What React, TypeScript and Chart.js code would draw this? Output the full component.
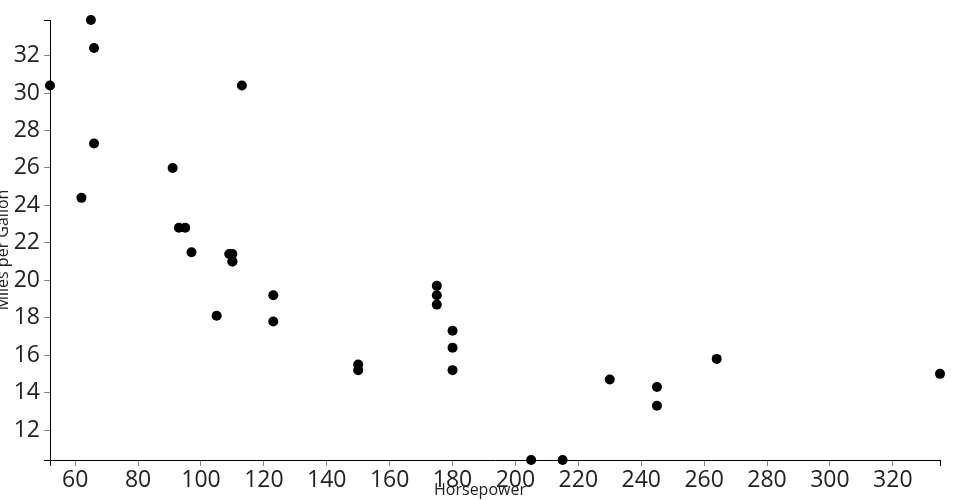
import React, { useEffect, useRef } from "react";
import { Chart, registerables } from "chart.js";

Chart.register(...registerables);

const horsepower = [110, 110, 93, 110, 175, 105, 245, 62, 95, 123, 123, 180, 180, 180, 205, 215, 230, 66, 52, 65, 97, 150, 150, 245, 175, 66, 91, 113, 264, 175, 335, 109];
const milesPerGallon = [21.0, 21.0, 22.8, 21.4, 18.7, 18.1, 14.3, 24.4, 22.8, 19.2, 17.8, 16.4, 17.3, 15.2, 10.4, 10.4, 14.7, 32.4, 30.4, 33.9, 21.5, 15.5, 15.2, 13.3, 19.2, 27.3, 26.0, 30.4, 15.8, 19.7, 15.0, 21.4];

const xTicks = [52, 60, 80, 100, 120, 140, 160, 180, 200, 220, 240, 260, 280, 300, 320, 335];
const yTicks = [10.4, 12, 14, 16, 18, 20, 22, 24, 26, 28, 30, 32, 33.9];

const xTitle = "Horsepower";
const yTitle = "Miles per Gallon";

const FONT = "'Open Sans', 'Noto Sans', sans-serif";

const titlesPlugin = {
  id: "axisTitles",
  afterDraw(chart: any) {
    const ctx = chart.ctx;
    ctx.save();
    ctx.fillStyle = "#222";
    ctx.font = `16px ${FONT}`;
    ctx.textAlign = "center";
    ctx.textBaseline = "alphabetic";
    ctx.fillText(xTitle, chart.width / 2, 495);
    ctx.translate(8, chart.height / 2);
    ctx.rotate(-Math.PI / 2);
    ctx.fillText(yTitle, 0, 0);
    ctx.restore();
  },
};

export default function App() {
  const ref = useRef<HTMLCanvasElement>(null);
  useEffect(() => {
    document.body.style.margin = "0";
    const points = horsepower.map((h, i) => ({ x: h, y: milesPerGallon[i] }));
    const isEnd = (ticksArr: number[], v: number) => v === ticksArr[0] || v === ticksArr[ticksArr.length - 1];
    const chart = new Chart(ref.current!, {
      type: "scatter",
      data: {
        datasets: [
          {
            data: points,
            backgroundColor: "#000",
            borderColor: "#000",
            pointRadius: 5,
            pointHoverRadius: 5,
            borderWidth: 0,
            clip: false,
          } as any,
        ],
      },
      options: {
        animation: false,
        responsive: false,
        events: [],
        layout: { padding: { top: 20, right: 20, left: 0, bottom: 0 } },
        plugins: { legend: { display: false }, tooltip: { enabled: false } },
        scales: {
          x: {
            type: "linear",
            min: 52,
            max: 335,
            afterBuildTicks: (axis: any) => {
              axis.ticks = xTicks.map((v) => ({ value: v }));
            },
            afterFit: (scale: any) => {
              scale.height = 40;
            },
            border: { display: true, color: "#000", width: 1 },
            grid: {
              drawOnChartArea: false,
              tickLength: 6,
              tickColor: (c: any) => (isEnd(xTicks, c.tick?.value) ? "#000" : "#888"),
            },
            ticks: {
              autoSkip: false,
              maxRotation: 0,
              padding: 1,
              color: "#222",
              font: { family: FONT, size: 23 },
              callback: (v: any) => (isEnd(xTicks, Number(v)) ? "" : String(v)),
            },
          },
          y: {
            type: "linear",
            min: 10.4,
            max: 33.9,
            afterBuildTicks: (axis: any) => {
              axis.ticks = yTicks.map((v) => ({ value: v }));
            },
            afterFit: (scale: any) => {
              scale.width = 50;
            },
            border: { display: true, color: "#000", width: 1 },
            grid: {
              drawOnChartArea: false,
              tickLength: 6,
              tickColor: (c: any) => (isEnd(yTicks, c.tick?.value) ? "#000" : "#888"),
            },
            ticks: {
              autoSkip: false,
              padding: 4,
              color: "#222",
              font: { family: FONT, size: 23 },
              callback: (v: any) => (isEnd(yTicks, Number(v)) ? "" : String(v)),
            },
          },
        },
      },
      plugins: [titlesPlugin],
    });
    return () => chart.destroy();
  }, []);
  return (
    <div style={{ width: 960, height: 500 }}>
      <canvas ref={ref} width={960} height={500} />
    </div>
  );
}
